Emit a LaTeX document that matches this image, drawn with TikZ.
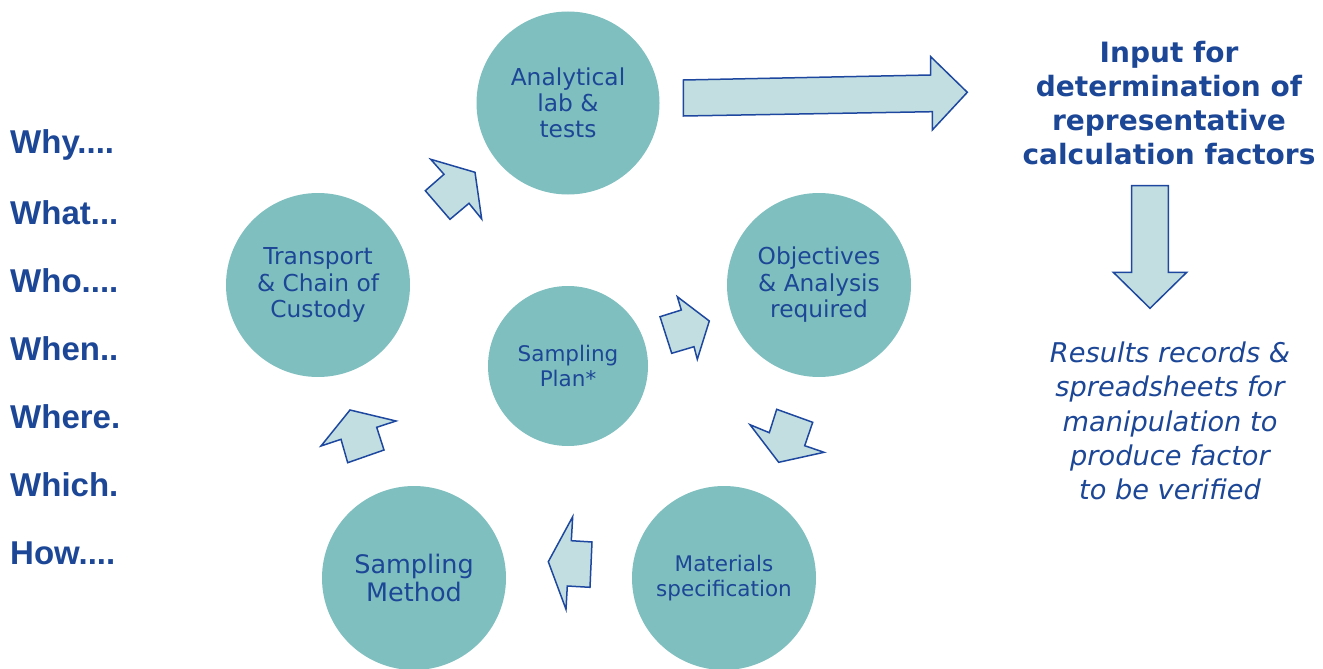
\documentclass[tikz,border=0pt]{standalone}
\usepackage{fontspec}
\setmainfont{DejaVu Sans}
\newfontfamily\libsans{Liberation Sans}
\definecolor{tealc}{RGB}{128,191,191}
\definecolor{tblue}{RGB}{28,70,150}
\definecolor{arrfill}{RGB}{194,222,224}
\definecolor{arrline}{RGB}{30,72,160}
\begin{document}
\begin{tikzpicture}[x=1pt,y=-1pt,
  circ/.style={circle, fill=tealc, draw=none, inner sep=0pt, align=center, text=tblue},
  blockarrow/.style={fill=arrfill, draw=arrline, line width=1.5pt, line join=miter},
  qword/.style={anchor=west, inner sep=0pt, text=tblue, font={\libsans\bfseries\fontsize{33}{38}\selectfont}},
  sidetext/.style={align=center, text=tblue, inner sep=0pt}]
\useasboundingbox (0,0) rectangle (1323,669);
% circles
\node[circ, minimum size=183pt, font={\fontsize{23.3}{26}\selectfont}] (lab) at (568,103) {Analytical\\lab \&\\tests};
\node[circ, minimum size=184pt, font={\fontsize{23.3}{26.5}\selectfont}] (obj) at (819,285) {Objectives\\\& Analysis\\required};
\node[circ, minimum size=160pt, font={\fontsize{21.5}{25}\selectfont}] (plan) at (568,366) {Sampling\\Plan*};
\node[circ, minimum size=184pt, font={\fontsize{23.3}{26.5}\selectfont}] (trans) at (318,285) {Transport\\\& Chain of\\Custody};
\node[circ, minimum size=184pt, font={\fontsize{25.5}{28}\selectfont}] (meth) at (414,578) {Sampling\\Method};
\node[circ, minimum size=184pt, font={\fontsize{21.5}{25}\selectfont}] (mat) at (724,578) {Materials\\specification};
% small block arrows
\draw[blockarrow] (430.7,159.3) -- (475,172.3) -- (481.7,219) -- (469,203.3) -- (450,219.3) -- (425.3,190.7) -- (444,174.3) -- cycle;
\draw[blockarrow] (677.3,296.7) -- (709.3,321) -- (697.3,359.3) -- (694,346.7) -- (671.7,353.3) -- (660,316.7) -- (681.3,310) -- cycle;
\draw[blockarrow] (776.7,409.3) -- (812.7,422.3) -- (804.7,445.7) -- (824,452.3) -- (778.7,462.3) -- (750,424.7) -- (769.3,432.7) -- cycle;
\draw[blockarrow] (572.7,516.7) -- (571.3,540.7) -- (592,542) -- (590,587.3) -- (567.3,586) -- (566,609.3) -- (548.3,561.7) -- cycle;
\draw[blockarrow] (350,410) -- (396,421) -- (376.7,427.3) -- (384,450) -- (347.7,462.7) -- (341,439.3) -- (321,446) -- cycle;
% big arrows
\draw[blockarrow] (683.3,80) -- (930.7,75) -- (930.7,56.7) -- (967.3,92.3) -- (932.3,130) -- (932.3,111.7) -- (683.3,116) -- cycle;
\draw[blockarrow] (1131.7,185.7) -- (1168.3,185.7) -- (1168.3,272.3) -- (1186.7,272.3) -- (1150,308.3) -- (1113.3,272.3) -- (1131.7,272.3) -- cycle;
% right texts
\node[sidetext, font={\bfseries\fontsize{28}{34}\selectfont}] (input) at (1169,103) {Input for\\determination of\\representative\\calculation factors};
\node[sidetext, font={\itshape\fontsize{27.2}{34.2}\selectfont}] (res) at (1170,421) {Results records \&\\spreadsheets for\\manipulation to\\produce factor\\to be verified};
% left questions
\node[qword] (why) at (10,145) {Why....};
\node[qword] (what) at (10,213) {What...};
\node[qword] (who) at (10,281) {Who....};
\node[qword] (when) at (10,349) {When..};
\node[qword] (where) at (10,417) {Where.};
\node[qword] (which) at (10,485) {Which.};
\node[qword] (how) at (10,553) {How....};
\end{tikzpicture}
\end{document}
